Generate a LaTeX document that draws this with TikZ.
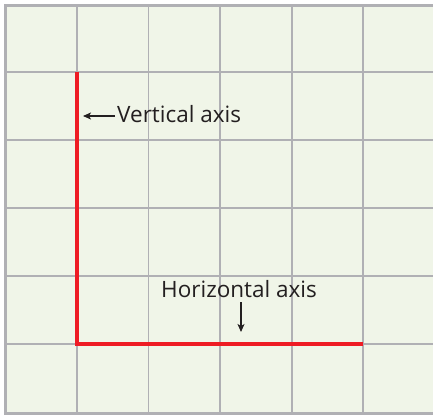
\documentclass[tikz,border=0pt]{standalone}
\usepackage{fontspec}
\setmainfont{Open Sans}
\usetikzlibrary{arrows.meta}
\definecolor{bgc}{HTML}{F0F5E8}
\definecolor{gridc}{HTML}{B0B0B4}
\definecolor{axisred}{HTML}{EE1C24}
\definecolor{txt}{HTML}{231F20}
\tikzset{
  gridline/.style={draw=gridc, line width=1.3pt},
  frameline/.style={draw=gridc, line width=3pt},
  axisline/.style={draw=axisred, line width=4pt},
  lbl/.style={font=\fontsize{22.5}{26}\selectfont, text=txt, inner sep=0pt},
  ptr/.style={draw=txt, line width=1.1pt, -{Stealth[length=8pt,width=7pt,inset=2pt]}}
}
\begin{document}
\begin{tikzpicture}[x=1pt,y=-1pt]
\useasboundingbox (0,0) rectangle (433,415);
\fill[bgc] (5,5) rectangle (440,413);
\foreach \x in {77,148.5,220,292,363} \draw[gridline] (\x,5) -- (\x,413);
\foreach \y in {72,140,208,276,344} \draw[gridline] (5,\y) -- (440,\y);
\draw[frameline] (440,5) -- (5,5) -- (5,413) -- (440,413);
\coordinate (o) at (77,344);
\coordinate (ytop) at (77,72);
\coordinate (xend) at (363,344);
\draw[axisline] (ytop) -- (o) -- (xend);
\node[lbl, anchor=base west] (vl) at (117,122) {Vertical axis};
\coordinate (va) at (83,116);
\coordinate (vs) at (115,116);
\draw[ptr] (vs) -- (va);
\node[lbl, anchor=base west] (hl) at (161,297) {Horizontal axis};
\coordinate (hs) at (241,302);
\coordinate (he) at (241,332);
\draw[ptr] (hs) -- (he);
\end{tikzpicture}
\end{document}
